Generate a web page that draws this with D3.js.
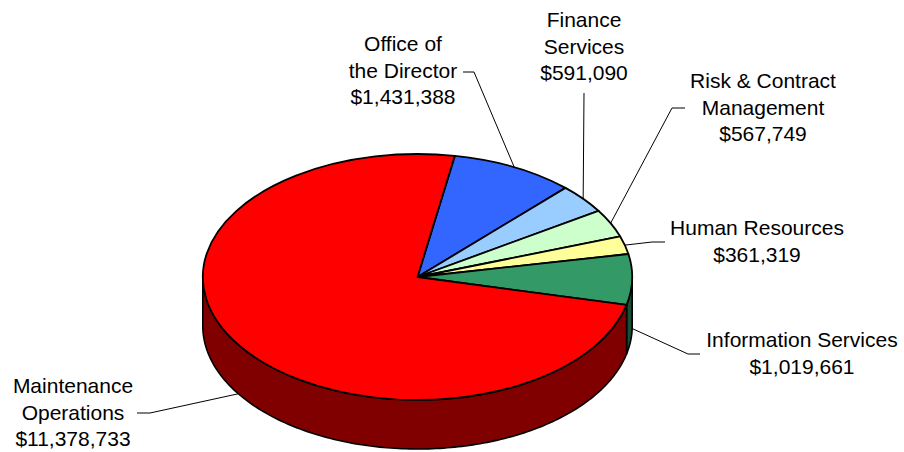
<!DOCTYPE html>
<html>
<head>
<meta charset="utf-8">
<script src="https://cdn.jsdelivr.net/npm/d3@7"></script>
<style>
  html, body { margin: 0; padding: 0; background: #fff; }
  svg { display: block; }
  text { font-family: "Liberation Sans", Arial, sans-serif; font-size: 21px; fill: #000; }
</style>
</head>
<body>
<svg id="chart" width="904" height="452"></svg>
<script>
// Budget by division
const categories = ["Office of the Director", "Finance Services", "Risk & Contract Management",
                    "Human Resources", "Information Services", "Maintenance Operations"];
const values = [1431388, 591090, 567749, 361319, 1019661, 11378733];
const nameLines = [["Office of", "the Director"], ["Finance", "Services"], ["Risk & Contract", "Management"],
                   ["Human Resources"], ["Information Services"], ["Maintenance", "Operations"]];
const topColors = ["#3366FF", "#99CCFF", "#CCFFCC", "#FFFF99", "#339966", "#FF0000"];

// Label placement: text centre x, first baseline y, leader start and elbow
const labelLayout = [
  { x: 403, y: 51,  start: [463, 72],  elbow: [474, 72] },
  { x: 584, y: 27,  start: [584, 93],  elbow: [584, 93] },
  { x: 763, y: 88,  start: [685, 108], elbow: [672, 108] },
  { x: 757, y: 235, start: [665, 242], elbow: [652, 242] },
  { x: 802, y: 347, start: [700, 354], elbow: [688, 354] },
  { x: 73,  y: 393, start: [137, 413], elbow: [150, 413] }
];

const cx = 417.5, cy = 277, rx = 214.7, ry = 123, depth = 49;
const lineH = 26.5;
const startDeg = 10;

const svg = d3.select("#chart");
const fmt = d3.format("$,");
const shade = c => { const r = d3.rgb(c); return d3.rgb(r.r * 0.5, r.g * 0.5, r.b * 0.5).formatHex(); };

const data = categories.map((name, i) => ({ name, value: values[i], i }));
const pie = d3.pie().sort(null).value(d => d.value)
  .startAngle(startDeg * Math.PI / 180)
  .endAngle(startDeg * Math.PI / 180 + 2 * Math.PI);
const arcs = pie(data);

const pt = (a, dy = 0) => [cx + rx * Math.sin(a), cy - ry * Math.cos(a) + dy];
const line = d3.line();

// Side walls: the part of each slice's rim facing the viewer (angles pi/2 .. 3pi/2)
const sideG = svg.append("g");
arcs.forEach(a => {
  for (let k = -1; k <= 1; k++) {
    const lo = Math.max(a.startAngle, Math.PI / 2 + k * 2 * Math.PI);
    const hi = Math.min(a.endAngle, 3 * Math.PI / 2 + k * 2 * Math.PI);
    if (hi <= lo) continue;
    const steps = Math.max(2, Math.ceil((hi - lo) / (Math.PI / 180)));
    const angs = d3.range(steps + 1).map(s => lo + (hi - lo) * s / steps);
    const pts = angs.map(t => pt(t)).concat(angs.slice().reverse().map(t => pt(t, depth)));
    sideG.append("path")
      .attr("d", line(pts) + "Z")
      .attr("fill", shade(topColors[a.data.i]))
      .attr("stroke", "#000")
      .attr("stroke-width", 1.6)
      .attr("stroke-linejoin", "round");
  }
});

// Top face: circular arcs squashed into the ellipse
const arcGen = d3.arc().innerRadius(0).outerRadius(rx);
svg.append("g")
  .attr("transform", `translate(${cx},${cy}) scale(1,${ry / rx})`)
  .selectAll("path")
  .data(arcs)
  .join("path")
  .attr("d", arcGen)
  .attr("fill", d => topColors[d.data.i])
  .attr("stroke", "#000")
  .attr("stroke-width", 1.8)
  .attr("stroke-linejoin", "round")
  .attr("vector-effect", "non-scaling-stroke");

// Leader lines to the slice rim (bottom edge for slices facing the viewer)
const leaderG = svg.append("g");
arcs.forEach(a => {
  const mid = (a.startAngle + a.endAngle) / 2;
  const front = Math.cos(mid) < 0;
  const anchor = pt(mid, front ? depth : 0);
  const L = labelLayout[a.data.i];
  leaderG.append("path")
    .attr("d", line([L.start, L.elbow, anchor]))
    .attr("fill", "none")
    .attr("stroke", "#000")
    .attr("stroke-width", 1);
});

// Labels
const labelG = svg.append("g");
arcs.forEach(a => {
  const L = labelLayout[a.data.i];
  const lines = nameLines[a.data.i].concat([fmt(a.data.value)]);
  const t = labelG.append("text").attr("text-anchor", "middle");
  lines.forEach((s, j) => {
    t.append("tspan").attr("x", L.x).attr("y", L.y + j * lineH).text(s);
  });
});
</script>
</body>
</html>
